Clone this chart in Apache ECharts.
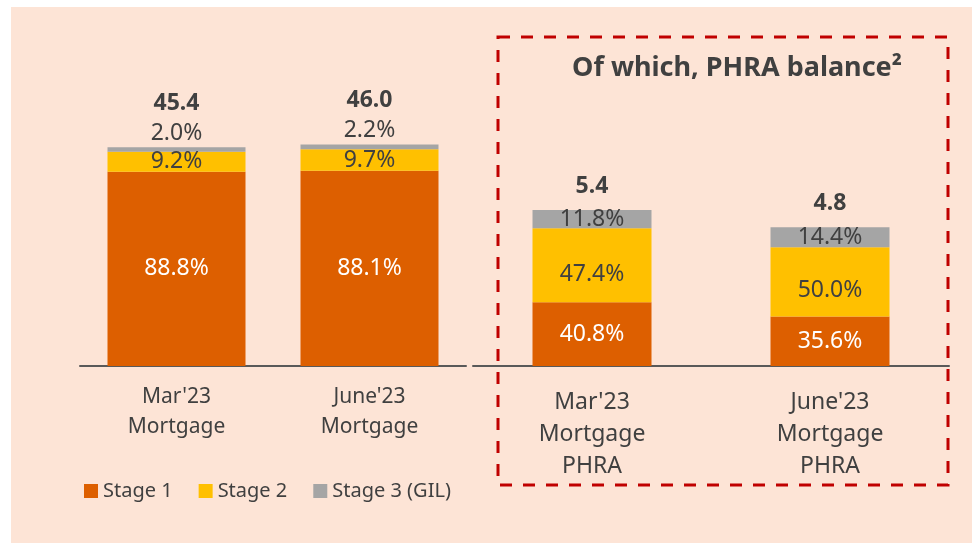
<!DOCTYPE html>
<html lang="en">
<head>
  <meta charset="UTF-8">
  <title>Mortgage stages</title>
  <script src="https://cdn.jsdelivr.net/npm/echarts@6/dist/echarts.min.js"></script>
  <style>
    body { margin: 0; background: #fff; }
    #chart { width: 972px; height: 543px; }
  </style>
</head>
<body>
  <div id="chart"></div>
  <script>
    // categories
    const mainCats = ["Mar'23\nMortgage", "June'23\nMortgage"];
    const phraCats = ["Mar'23\nMortgage\nPHRA", "June'23\nMortgage\nPHRA"];
    // balances
    const mainTotals = [45.4, 46.0];
    const phraTotals = [5.4, 4.8];
    // stage shares, %
    const mainStage1 = [88.8, 88.1];
    const mainStage2 = [9.2, 9.7];
    const mainStage3 = [2.0, 2.2];
    const phraStage1 = [40.8, 35.6];
    const phraStage2 = [47.4, 50.0];
    const phraStage3 = [11.8, 14.4];

    const stageNames = ['Stage 1', 'Stage 2', 'Stage 3 (GIL)'];
    const colors = ['#dd5f00', '#ffc000', '#a5a5a5'];
    const txt = '#404040';

    // segment value = balance * share
    function seg(totals, pct) {
      return pct.map(function (p, i) { return { value: totals[i] * p / 100, pct: p }; });
    }
    const pctFmt = function (p) { return p.data.pct.toFixed(1) + '%'; };

    function stageSeries(idx, totals, pcts, stack) {
      return pcts.map(function (pct, s) {
        let pos = 'inside';
        let off = [0, 0];
        if (idx === 0 && s === 2) pos = 'top';
        if (idx === 1 && s === 1) off = [0, 9]; // excel puts these a bit low
        return {
          name: stageNames[s],
          type: 'bar',
          xAxisIndex: idx,
          yAxisIndex: idx,
          stack: stack,
          barWidth: idx === 0 ? 138 : 119,
          itemStyle: { color: colors[s] },
          label: {
            show: true,
            position: pos,
            offset: off,
            distance: 2,
            color: s === 0 ? '#fff' : txt,
            fontSize: 23,
            formatter: pctFmt
          },
          data: seg(totals, pct)
        };
      });
    }

    function totalSeries(idx, totals, stack, dist) {
      return {
        name: 'Total',
        type: 'bar',
        xAxisIndex: idx,
        yAxisIndex: idx,
        stack: stack,
        barWidth: idx === 0 ? 138 : 119,
        itemStyle: { color: 'transparent' },
        label: {
          show: true,
          position: 'top',
          distance: dist,
          color: txt,
          fontSize: 23,
          fontWeight: 'bold',
          formatter: function (p) { return totals[p.dataIndex].toFixed(1); }
        },
        data: totals.map(function () { return 0; })
      };
    }

    const chart = echarts.init(document.getElementById('chart'));
    chart.setOption({
      animation: false,
      textStyle: { fontFamily: 'Noto Sans' },
      graphic: [
        { type: 'rect', z: -10, shape: { x: 11, y: 7, width: 961, height: 536 }, style: { fill: '#fde4d6' } },
        { type: 'rect', z: 10, shape: { x: 498, y: 37, width: 450, height: 448 },
          style: { fill: 'none', stroke: '#c00000', lineWidth: 3, lineDash: [12, 11] } },
        { type: 'text', z: 10, x: 737, y: 68,
          style: { text: 'Of which, PHRA balance²', fill: txt, font: 'bold 27px "Noto Sans"',
            textAlign: 'center', textVerticalAlign: 'middle' } }
      ],
      legend: {
        data: stageNames,
        left: 84,
        top: 481,
        padding: 0,
        itemWidth: 14,
        itemHeight: 14,
        itemGap: 26,
        icon: 'rect',
        textStyle: { color: txt, fontSize: 20 }
      },
      grid: [
        { left: 80, width: 386, top: 77, height: 289 },
        { left: 473, width: 476, top: 77, height: 289 }
      ],
      xAxis: [
        {
          type: 'category', gridIndex: 0, data: mainCats,
          axisLine: { lineStyle: { color: '#595959', width: 2 } },
          axisTick: { show: false },
          axisLabel: { color: txt, fontSize: 21, lineHeight: 30, margin: 16 }
        },
        {
          type: 'category', gridIndex: 1, data: phraCats,
          axisLine: { lineStyle: { color: '#595959', width: 2 } },
          axisTick: { show: false },
          axisLabel: { color: txt, fontSize: 23, lineHeight: 32, margin: 20 }
        }
      ],
      yAxis: [
        { type: 'value', gridIndex: 0, min: 0, max: 60, show: false },
        { type: 'value', gridIndex: 1, min: 0, max: 10, show: false }
      ],
      series: []
        .concat(stageSeries(0, mainTotals, [mainStage1, mainStage2, mainStage3], 'main'))
        .concat([totalSeries(0, mainTotals, 'main', 32)])
        .concat(stageSeries(1, phraTotals, [phraStage1, phraStage2, phraStage3], 'phra'))
        .concat([totalSeries(1, phraTotals, 'phra', 12)])
    });
  </script>
</body>
</html>
